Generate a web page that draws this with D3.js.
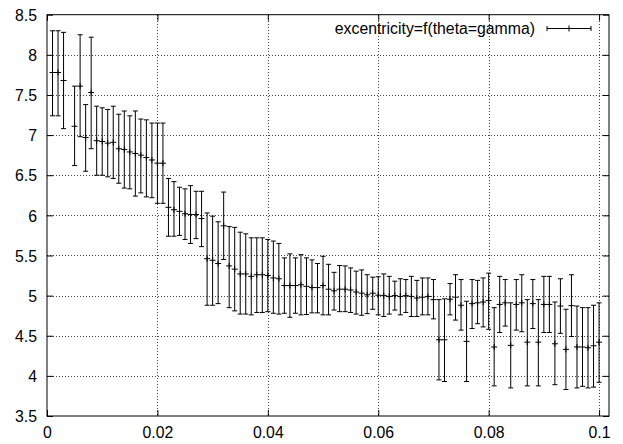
<!DOCTYPE html>
<html>
<head>
<meta charset="utf-8">
<script src="https://cdn.jsdelivr.net/npm/d3@7"></script>
<style>
  html, body { margin: 0; padding: 0; background: #fff; }
  svg { display: block; }
  text { font-family: "Liberation Sans", Arial, Helvetica, sans-serif; font-size: 15.8px; fill: #000; }
</style>
</head>
<body>
<svg id="chart" width="623" height="444"></svg>
<script>
// theta (x) sample positions
const thetaValues = [
  0.001, 0.002, 0.003, 0.005, 0.006, 0.007, 0.008, 0.009, 0.010,
  0.011, 0.012, 0.013, 0.014, 0.015, 0.016, 0.017, 0.018, 0.019, 0.020,
  0.021, 0.022, 0.023, 0.024, 0.025, 0.026, 0.027, 0.028, 0.029, 0.030,
  0.031, 0.032, 0.033, 0.034, 0.035, 0.036, 0.037, 0.038, 0.039, 0.040,
  0.041, 0.042, 0.043, 0.044, 0.045, 0.046, 0.047, 0.048, 0.049, 0.050,
  0.051, 0.052, 0.053, 0.054, 0.055, 0.056, 0.057, 0.058, 0.059, 0.060,
  0.061, 0.062, 0.063, 0.064, 0.065, 0.066, 0.067, 0.068, 0.069, 0.070,
  0.071, 0.072, 0.073, 0.074, 0.075, 0.076, 0.077, 0.078, 0.079, 0.080,
  0.081, 0.082, 0.083, 0.084, 0.085, 0.086, 0.087, 0.088, 0.089, 0.090,
  0.091, 0.092, 0.093, 0.094, 0.095, 0.096, 0.097, 0.098, 0.099, 0.100
];

// mean excentricity
const excentricity = [
  7.78, 7.78, 7.68, 7.11, 7.61, 6.97, 7.53, 6.93, 6.92,
  6.90, 6.91, 6.83, 6.82, 6.79, 6.77, 6.75, 6.72, 6.69, 6.65,
  6.65, 6.10, 6.07, 6.05, 6.02, 6.01, 6.01, 5.96, 5.46, 5.44,
  5.40, 5.87, 5.37, 5.33, 5.27, 5.27, 5.24, 5.26, 5.26, 5.25,
  5.22, 5.21, 5.125, 5.125, 5.125, 5.135, 5.115, 5.10, 5.10, 5.125,
  5.08, 5.06, 5.08, 5.08, 5.07, 5.045, 5.03, 5.01, 5.03, 5.005,
  5.00, 4.99, 5.00, 4.99, 5.00, 4.99, 4.97, 4.98, 4.99, 4.95,
  4.45, 4.45, 4.955, 4.98, 4.88, 4.43, 4.90, 4.91, 4.92, 4.94,
  4.36, 4.89, 4.91, 4.38, 4.89, 4.91, 4.42, 4.90, 4.42, 4.89,
  4.89, 4.40, 4.87, 4.33, 4.875, 4.36, 4.36, 4.35, 4.375, 4.42
];

// lower end of each error bar
const excentricityLow = [
  7.24, 7.24, 7.08, 6.62, 6.98, 6.55, 6.83, 6.50, 6.50,
  6.48, 6.46, 6.40, 6.34, 6.33, 6.24, 6.28, 6.23, 6.22, 6.15,
  6.15, 5.74, 5.74, 5.75, 5.70, 5.65, 5.71, 5.61, 4.88, 4.88,
  4.90, 5.45, 4.85, 4.81, 4.77, 4.77, 4.76, 4.79, 4.79, 4.80,
  4.78, 4.77, 4.78, 4.73, 4.78, 4.76, 4.765, 4.785, 4.785, 4.76,
  4.76, 4.82, 4.80, 4.80, 4.79, 4.77, 4.755, 4.775, 4.83, 4.76,
  4.74, 4.77, 4.82, 4.76, 4.79, 4.74, 4.74, 4.76, 4.76, 4.71,
  3.95, 3.93, 4.76, 4.695, 4.57, 3.93, 4.59, 4.65, 4.61, 4.58,
  3.875, 4.54, 4.62, 3.85, 4.57, 4.55, 3.875, 4.59, 3.875, 4.54,
  4.54, 3.89, 4.53, 3.83, 4.49, 3.85, 3.87, 3.85, 3.86, 3.92
];

// upper end of each error bar
const excentricityHigh = [
  8.30, 8.30, 8.28, 7.61, 8.25, 7.38, 8.22, 7.36, 7.34,
  7.32, 7.36, 7.26, 7.30, 7.24, 7.30, 7.20, 7.19, 7.15, 7.15,
  7.15, 6.46, 6.42, 6.35, 6.33, 6.37, 6.30, 6.30, 6.03, 5.99,
  5.92, 6.29, 5.86, 5.85, 5.79, 5.77, 5.72, 5.72, 5.72, 5.70,
  5.68, 5.65, 5.47, 5.52, 5.47, 5.51, 5.47, 5.445, 5.40, 5.49,
  5.39, 5.29, 5.375, 5.37, 5.345, 5.305, 5.32, 5.26, 5.23, 5.235,
  5.27, 5.24, 5.18, 5.21, 5.20, 5.24, 5.19, 5.22, 5.22, 5.20,
  4.95, 4.96, 5.15, 5.26, 5.20, 4.93, 5.20, 5.19, 5.22, 5.28,
  4.85, 5.24, 5.20, 4.91, 5.20, 5.26, 4.95, 5.20, 4.95, 5.24,
  5.24, 4.92, 5.21, 4.83, 5.26, 4.87, 4.85, 4.85, 4.88, 4.91
];

const xTickValues = [0, 0.02, 0.04, 0.06, 0.08, 0.1];
const xTickLabels = ["0", "0.02", "0.04", "0.06", "0.08", "0.1"];
const yTickValues = [3.5, 4, 4.5, 5, 5.5, 6, 6.5, 7, 7.5, 8, 8.5];
const yTickLabels = ["3.5", "4", "4.5", "5", "5.5", "6", "6.5", "7", "7.5", "8", "8.5"];

const seriesTitle = "excentricity=f(theta=gamma)";

const points = thetaValues.map((x, i) => ({
  x, y: excentricity[i], lo: excentricityLow[i], hi: excentricityHigh[i]
}));

const svg = d3.select("#chart");
const plotLeft = 47, plotRight = 609, plotTop = 14.7, plotBottom = 416;

const x = d3.scaleLinear().domain([0, 0.1018]).range([plotLeft, plotRight]);
const y = d3.scaleLinear().domain([3.5, 8.5]).range([plotBottom, plotTop]);

const tickLen = 6;
const capHalf = 2.5;
const plusHalf = 3;

// grid (dotted)
const grid = svg.append("g")
  .attr("stroke", "#444")
  .attr("stroke-width", 1)
  .attr("stroke-dasharray", "1,2")
  .attr("shape-rendering", "crispEdges");

grid.selectAll("line.gy")
  .data(yTickValues.filter(v => v > 3.5 && v < 8.5))
  .join("line")
  .attr("class", "gy")
  .attr("x1", plotLeft).attr("x2", plotRight)
  .attr("y1", d => Math.round(y(d)) + 0.5).attr("y2", d => Math.round(y(d)) + 0.5);

grid.selectAll("line.gx")
  .data(xTickValues.filter(v => v > 0))
  .join("line")
  .attr("class", "gx")
  .attr("y1", plotTop).attr("y2", plotBottom)
  .attr("x1", d => Math.round(x(d)) + 0.5).attr("x2", d => Math.round(x(d)) + 0.5);

// axes with inward ticks, mirrored on the opposite sides
const fmtX = (d, i) => xTickLabels[i];
const fmtY = (d, i) => yTickLabels[i];

const axisBottom = d3.axisBottom(x).tickValues(xTickValues).tickFormat(fmtX)
  .tickSizeInner(-tickLen).tickSizeOuter(0).tickPadding(12);
const axisTop = d3.axisTop(x).tickValues(xTickValues).tickFormat("")
  .tickSizeInner(-tickLen).tickSizeOuter(0);
const axisLeft = d3.axisLeft(y).tickValues(yTickValues).tickFormat(fmtY)
  .tickSizeInner(-tickLen).tickSizeOuter(0).tickPadding(10);
const axisRight = d3.axisRight(y).tickValues(yTickValues).tickFormat("")
  .tickSizeInner(-tickLen).tickSizeOuter(0);

function styleAxis(g) {
  g.attr("font-family", null).attr("font-size", null);
  g.select(".domain").remove();
  g.selectAll(".tick line").attr("stroke", "#000");
  g.selectAll(".tick text").attr("fill", "#000");
}

svg.append("g").attr("transform", `translate(0,${plotBottom})`).call(axisBottom).call(styleAxis)
  .selectAll(".tick text").attr("dy", "0.71em").attr("y", 11);
svg.append("g").attr("transform", `translate(0,${plotTop})`).call(axisTop).call(styleAxis);
svg.append("g").attr("transform", `translate(${plotLeft},0)`).call(axisLeft).call(styleAxis)
  .selectAll(".tick text").attr("dy", "0.36em");
svg.append("g").attr("transform", `translate(${plotRight},0)`).call(axisRight).call(styleAxis);

// plot border
svg.append("rect")
  .attr("x", plotLeft).attr("y", plotTop)
  .attr("width", plotRight - plotLeft).attr("height", plotBottom - plotTop)
  .attr("fill", "none").attr("stroke", "#000").attr("stroke-width", 1);

// error bars
const bars = svg.append("g").attr("stroke", "#000").attr("stroke-width", 1).attr("fill", "none");
const bar = bars.selectAll("g.bar").data(points).join("g").attr("class", "bar");

bar.append("line")
  .attr("x1", d => x(d.x)).attr("x2", d => x(d.x))
  .attr("y1", d => y(d.lo)).attr("y2", d => y(d.hi));
bar.append("line")
  .attr("x1", d => x(d.x) - capHalf).attr("x2", d => x(d.x) + capHalf)
  .attr("y1", d => y(d.lo)).attr("y2", d => y(d.lo));
bar.append("line")
  .attr("x1", d => x(d.x) - capHalf).attr("x2", d => x(d.x) + capHalf)
  .attr("y1", d => y(d.hi)).attr("y2", d => y(d.hi));
// "+" point marker
bar.append("line")
  .attr("x1", d => x(d.x) - plusHalf).attr("x2", d => x(d.x) + plusHalf)
  .attr("y1", d => y(d.y)).attr("y2", d => y(d.y));
bar.append("line")
  .attr("x1", d => x(d.x)).attr("x2", d => x(d.x))
  .attr("y1", d => y(d.y) - plusHalf).attr("y2", d => y(d.y) + plusHalf);

// key
const key = svg.append("g");
key.append("text")
  .attr("x", 535).attr("y", 33.5)
  .attr("text-anchor", "end")
  .text(seriesTitle);
const ky = 28.5, kx1 = 547, kx2 = 591, kmid = (kx1 + kx2) / 2;
const keyLines = key.append("g").attr("stroke", "#000").attr("stroke-width", 1);
keyLines.append("line").attr("x1", kx1).attr("x2", kx2).attr("y1", ky).attr("y2", ky);
keyLines.append("line").attr("x1", kx1).attr("x2", kx1).attr("y1", ky - capHalf).attr("y2", ky + capHalf);
keyLines.append("line").attr("x1", kx2).attr("x2", kx2).attr("y1", ky - capHalf).attr("y2", ky + capHalf);
keyLines.append("line").attr("x1", kmid).attr("x2", kmid).attr("y1", ky - plusHalf).attr("y2", ky + plusHalf);
</script>
</body>
</html>
